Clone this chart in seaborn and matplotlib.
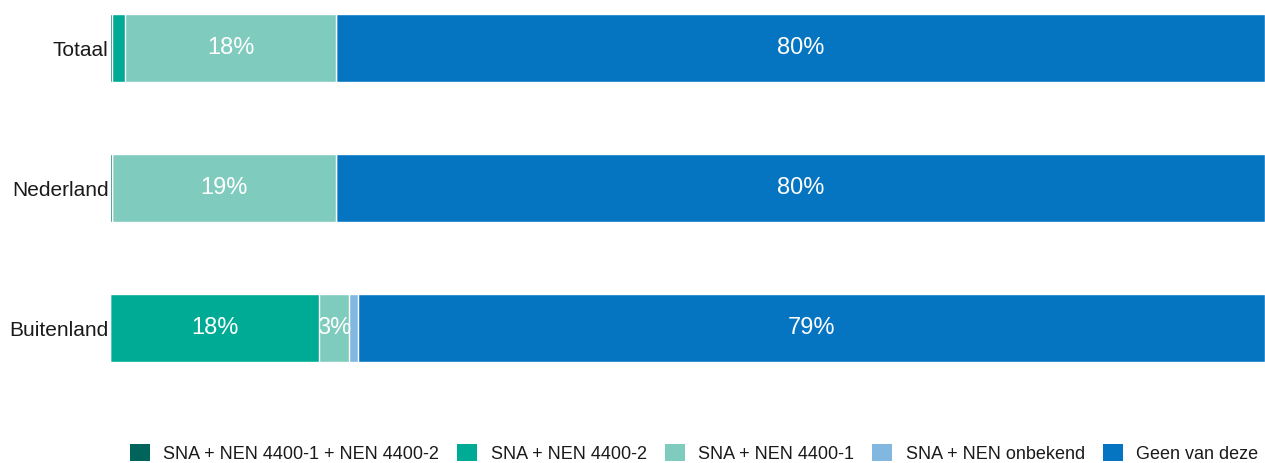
import matplotlib
matplotlib.use("Agg")
import matplotlib.pyplot as plt
import numpy as np
import pandas as pd
import seaborn as sns
from matplotlib.patches import Patch

# data (percent per category)
groups = ["Totaal", "Nederland", "Buitenland"]
series = ["SNA + NEN 4400-1 + NEN 4400-2", "SNA + NEN 4400-2", "SNA + NEN 4400-1",
          "SNA + NEN onbekend", "Geen van deze"]
sna_both = [0.2, 0.2, 0.0]
sna_4400_2 = [1.1, 0.0, 18.1]
sna_4400_1 = [18.3, 19.4, 2.6]
sna_unknown = [0.0, 0.0, 0.8]
none_of_these = [80.4, 80.4, 78.5]

colors = ["#00645a", "#00ab96", "#7fcbbe", "#82b7e0", "#0575c1"]

sns.set_style("white")
plt.rcParams["font.family"] = ["Liberation Sans", "DejaVu Sans"]

values = np.array([sna_both, sna_4400_2, sna_4400_1, sna_unknown, none_of_these])
cum = np.cumsum(values, axis=0)

fig = plt.figure(figsize=(12.65, 4.63), dpi=100)
ax = fig.add_axes([110 / 1265, 1 - 420 / 463, 1155 / 1265, 420 / 463])

# stacked bars by overlaying cumulative totals, widest first
for i in range(len(series) - 1, -1, -1):
    df = pd.DataFrame({"groep": groups, "waarde": cum[i]})
    sns.barplot(data=df, x="waarde", y="groep", orient="h", color=colors[i],
                saturation=1, width=0.486, edgecolor="white", linewidth=1.0, ax=ax)

# percentage labels (round half up)
for i in range(len(series)):
    for j, g in enumerate(groups):
        v = values[i, j]
        if v >= 2:
            ax.text(cum[i, j] - v / 2, j, f"{int(v + 0.5)}%", color="white",
                    ha="center", va="center", fontsize=17)

ax.set_xlim(0, 100)
ax.set_ylim(2.657, -0.343)
ax.set_xlabel(None)
ax.set_ylabel(None)
ax.set_xticks([])
ax.tick_params(axis="y", length=0, labelsize=15, pad=1, labelcolor="#1a1a1a")
sns.despine(ax=ax, left=True, bottom=True)

handles = [Patch(facecolor=c, edgecolor="none") for c in colors]
fig.legend(handles, series, loc="upper left", bbox_to_anchor=(130 / 1265, 1 - 444 / 463),
           ncol=5, frameon=False, fontsize=13, handlelength=1.1, handleheight=1.1,
           columnspacing=1.0, handletextpad=0.75, borderaxespad=0, borderpad=0,
           labelcolor="#1a1a1a")

fig.savefig("out.png", dpi=100)
